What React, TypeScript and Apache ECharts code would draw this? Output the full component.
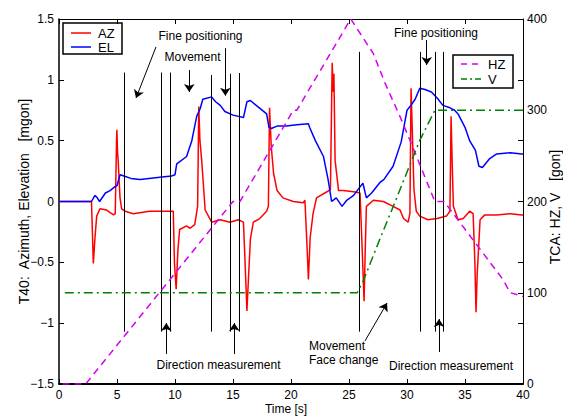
import React, { useEffect, useRef } from 'react';
import * as echarts from 'echarts';

// ---- data (time in s; AZ/EL in mgon; HZ/V in gon) ----
const azPoints: [number, number][] = [
  [0, 0], [2.8, 0], [2.96, -0.51], [3.1, -0.3], [3.25, -0.12], [3.53, -0.06], [4.1, -0.07], [4.7, -0.11],
  [4.85, -0.1], [4.95, 0.45], [4.99, 0.59], [5.05, 0.4], [5.1, 0.34], [5.26, 0.03], [5.4, -0.06], [5.7, -0.08],
  [6.4, -0.1], [7.8, -0.08], [9.3, -0.08], [9.85, -0.08], [9.95, -0.5], [10.1, -0.72], [10.25, -0.4],
  [10.4, -0.23], [11, -0.2], [11.3, -0.22], [11.7, -0.19], [11.95, -0.04], [12.05, 0.78], [12.15, 0.5],
  [12.3, 0.34], [12.6, -0.07], [13.16, -0.17], [13.9, -0.15], [14.74, -0.17], [15.46, -0.15], [15.9, -0.17],
  [16.0, -0.4], [16.2, -0.9], [16.35, -0.6], [16.5, -0.31], [16.75, -0.17], [17.3, -0.14], [17.9, -0.08],
  [18.05, -0.04], [18.15, 0.77], [18.3, 0.45], [18.5, 0.23], [18.8, 0.09], [19.3, 0.03], [20.2, 0.0],
  [21.06, -0.01], [21.2, 0.01], [21.35, -0.3], [21.5, -0.64], [21.65, -0.3], [21.9, -0.1], [22.2, 0.03],
  [23.1, 0.08], [23.4, 0.1], [23.55, 1.14], [23.65, 0.9], [23.7, 1.05], [23.8, 0.34], [24.1, 0.09],
  [24.5, 0.09], [25.4, 0.08], [25.95, 0.07], [26.1, -0.3], [26.3, -0.82], [26.4, -0.4], [26.5, -0.04],
  [27.1, 0.01], [27.96, 0.0], [28.8, -0.04], [29.4, -0.07], [29.7, -0.14], [30.1, -0.17], [30.25, -0.1],
  [30.35, 0.93], [30.45, 0.6], [30.6, 0.1], [30.8, -0.08], [31.1, -0.12], [31.8, -0.15], [32.6, -0.14],
  [33.4, -0.12], [33.7, -0.08], [33.8, 0.7], [33.9, 0.3], [34.0, -0.04], [34.4, -0.15], [34.85, -0.14],
  [35.4, -0.08], [35.7, -0.1], [35.85, -0.5], [35.95, -0.91], [36.05, -0.6], [36.3, -0.15], [36.7, -0.11],
  [37.7, -0.11], [38.9, -0.1], [39.9, -0.11], [40, -0.11],
];

const elPoints: [number, number][] = [
  [0, 0], [2.8, 0], [3.1, 0.05], [3.3, 0.03], [3.5, 0.0], [4.0, 0.07], [4.4, 0.09], [4.8, 0.12], [5.0, 0.13],
  [5.26, 0.22], [5.6, 0.21], [6.2, 0.19], [7, 0.18], [8.7, 0.2], [9.7, 0.21], [10.0, 0.22], [10.15, 0.31],
  [11, 0.37], [11.45, 0.5], [11.87, 0.7], [12.16, 0.76], [12.4, 0.84], [13.16, 0.86], [13.5, 0.82],
  [13.9, 0.79], [14.3, 0.74], [15.0, 0.71], [15.9, 0.69], [16.2, 0.82], [16.5, 0.83], [17.0, 0.79],
  [17.9, 0.72], [18.1, 0.61], [18.3, 0.6], [18.8, 0.62], [19.6, 0.62], [20.5, 0.63], [21.5, 0.64],
  [21.6, 0.61], [22.1, 0.5], [22.8, 0.37], [23.2, 0.18], [23.5, 0.0], [23.9, 0.03], [24.4, -0.04],
  [24.8, 0.01], [25.4, 0.05], [25.95, 0.12], [26.2, 0.15], [26.5, 0.03], [26.95, 0.07], [27.7, 0.16],
  [28, 0.18], [28.8, 0.29], [29.5, 0.49], [30, 0.75], [30.26, 0.78], [30.7, 0.84], [31.1, 0.93],
  [31.55, 0.92], [32.1, 0.9], [32.6, 0.85], [33.1, 0.79], [33.7, 0.77], [34.1, 0.75], [34.4, 0.72],
  [35, 0.61], [35.4, 0.5], [35.9, 0.42], [36.2, 0.29], [36.5, 0.28], [37.1, 0.35], [37.7, 0.39],
  [38.9, 0.4], [39.9, 0.39], [40, 0.39],
];

const hzPoints: [number, number][] = [
  [0.3, 0], [2.3, 0], [15.0, 200], [15.6, 200], [20.2, 300], [20.5, 300], [25.15, 400], [27.1, 362],
  [28.1, 330], [29.4, 293], [30.26, 267], [32.4, 200], [33.2, 200], [38.3, 114], [38.9, 100], [40, 96],
];

const vPoints: [number, number][] = [
  [0.5, 100], [25.7, 100], [26.2, 112], [27.7, 160], [28.7, 191], [31.1, 267], [32.4, 300], [40, 300],
];

// vertical event markers: [time, lower, upper] in mgon
const eventLines: [number, number, number][] = [
  [5.63, -1.07, 1.06], [8.85, -1.07, 1.06], [9.63, -1.07, 1.06],
  [13.1, -1.07, 1.04], [14.77, -1.07, 1.05], [15.55, -1.07, 1.056],
  [25.9, -1.07, 1.23], [31.1, -1.07, 1.23], [32.4, -1.07, 1.23], [33.1, -1.07, 1.23],
];

// annotation arrows: [fromT, fromV, toT, toV]
const arrowLines: [number, number, number, number][] = [
  [8.36, 1.27, 6.64, 0.85],
  [14.34, 1.26, 14.34, 0.87],
  [11.23, 1.08, 11.23, 0.9],
  [31.7, 1.327, 31.7, 1.122],
  [9.25, -1.253, 9.25, -0.999],
  [15.11, -1.253, 15.11, -0.999],
  [26.38, -1.146, 28.28, -0.834],
  [32.76, -1.237, 32.76, -0.966],
];

const COLORS = { AZ: '#ff0000', EL: '#0000ff', HZ: '#d400f0', V: '#008000' };
const DASH_HZ = [7, 5];
const DASH_V = [9, 4, 2, 4];

const FONT = 'Liberation Sans, Arial, Helvetica, sans-serif';
const minus = (v: number) => String(v).replace('-', '\u2212');

export default function App() {
  const ref = useRef<HTMLDivElement>(null);
  useEffect(() => {
    document.body.style.margin = '0';
    const chart = echarts.init(ref.current!, undefined, { renderer: 'svg' });
    const txt = (text: string, x: number, y: number, align = 'center', size = 12) => ({
      type: 'text', x, y, silent: true, z: 100,
      style: { text, fill: '#000', font: `${size}px ${FONT}`, textAlign: align, textVerticalAlign: 'middle' },
    });
    const legendBox = (x: number, y: number, w: number, h: number,
      items: { name: string; color: string; dash?: number[]; y: number }[]) => ({
      type: 'group', z: 100,
      children: [
        { type: 'rect', shape: { x, y, width: w, height: h }, style: { fill: '#fff', stroke: '#000', lineWidth: 1.5 } },
        ...items.flatMap((it) => [
          {
            type: 'line', shape: { x1: x + 8, y1: it.y, x2: x + 28, y2: it.y },
            style: { stroke: it.color, lineWidth: 1.5, lineDash: it.dash || null },
          },
          {
            type: 'text', x: x + 35, y: it.y,
            style: { text: it.name, fill: '#000', font: `13px ${FONT}`, textAlign: 'left', textVerticalAlign: 'middle' },
          },
        ]),
      ],
    });
    const axisCommon = {
      axisLine: { show: true, onZero: false, lineStyle: { color: '#000', width: 1.5 } },
      axisTick: { show: true, inside: true, length: 5, lineStyle: { color: '#000' } },
      splitLine: { show: false },
    };
    chart.setOption({
      animation: false,
      backgroundColor: '#fff',
      grid: { left: 59, right: 40, top: 19, bottom: 32, outerBoundsMode: 'none' },
      xAxis: [
        {
          type: 'value', min: 0, max: 40, interval: 5, position: 'bottom', ...axisCommon,
          axisLine: { show: true, onZero: false, lineStyle: { color: '#000', width: 2 } },
          axisLabel: { margin: 5, fontSize: 12, fontFamily: FONT, color: '#000' },
        },
        {
          type: 'value', min: 0, max: 40, interval: 5, position: 'top', ...axisCommon,
          axisLine: { show: true, onZero: false, lineStyle: { color: '#000', width: 1 } },
          axisLabel: { show: false },
        },
      ],
      yAxis: [
        {
          type: 'value', min: -1.5, max: 1.5, interval: 0.5, position: 'left', ...axisCommon,
          axisLabel: { margin: 5, fontSize: 12, fontFamily: FONT, color: '#000', formatter: minus },
        },
        {
          type: 'value', min: 0, max: 400, interval: 100, position: 'right', ...axisCommon,
          axisLine: { show: true, onZero: false, lineStyle: { color: '#000', width: 1 } },
          axisLabel: { margin: 4, fontSize: 12, fontFamily: FONT, color: '#000' },
        },
        {
          type: 'value', min: -1.5, max: 1.5, interval: 0.5, position: 'right', ...axisCommon,
          axisLine: { show: false, onZero: false }, axisLabel: { show: false },
        },
      ],
      series: [
        {
          name: 'AZ', type: 'line', data: azPoints, symbol: 'none', xAxisIndex: 0, yAxisIndex: 0,
          color: COLORS.AZ, lineStyle: { color: COLORS.AZ, width: 1.5 }, z: 2,
        },
        {
          name: 'EL', type: 'line', data: elPoints, symbol: 'none', xAxisIndex: 0, yAxisIndex: 0,
          color: COLORS.EL, lineStyle: { color: COLORS.EL, width: 1.5 }, z: 3,
        },
        {
          name: 'events', type: 'line', data: [], xAxisIndex: 0, yAxisIndex: 0, z: 4,
          markLine: {
            silent: true, animation: false, symbol: 'none', label: { show: false },
            lineStyle: { color: '#000', width: 1, type: 'solid' },
            data: eventLines.map(([t, lo, hi]) => [{ coord: [t, lo] }, { coord: [t, hi] }]),
          },
        },
        {
          name: 'arrows', type: 'line', data: [], xAxisIndex: 0, yAxisIndex: 0, z: 4,
          markLine: {
            silent: true, animation: false, symbol: ['none', 'arrow'], symbolSize: 8,
            label: { show: false },
            lineStyle: { color: '#000', width: 1, type: 'solid' },
            itemStyle: { color: '#000' },
            data: arrowLines.map(([t0, v0, t1, v1]) => [{ coord: [t0, v0] }, { coord: [t1, v1] }]),
          },
        },
        {
          name: 'HZ', type: 'line', data: hzPoints, symbol: 'none', xAxisIndex: 0, yAxisIndex: 1,
          color: COLORS.HZ, lineStyle: { color: COLORS.HZ, width: 1.5, type: DASH_HZ }, z: 5,
        },
        {
          name: 'V', type: 'line', data: vPoints, symbol: 'none', xAxisIndex: 0, yAxisIndex: 1,
          color: COLORS.V, lineStyle: { color: COLORS.V, width: 1.5, type: DASH_V }, z: 5,
        },
      ],
      graphic: [
        legendBox(63, 23, 59, 31, [
          { name: 'AZ', color: COLORS.AZ, y: 33 },
          { name: 'EL', color: COLORS.EL, y: 47 },
        ]),
        legendBox(453, 55, 60, 33, [
          { name: 'HZ', color: COLORS.HZ, dash: [6, 5], y: 64 },
          { name: 'V', color: COLORS.V, dash: [6, 3, 2, 3], y: 79 },
        ]),
        txt('Fine positioning', 200.5, 36),
        txt('Movement', 192.5, 57),
        txt('Fine positioning', 436, 33),
        txt('Direction measurement', 218.5, 365),
        txt('Direction measurement', 451, 366),
        txt('Movement', 309, 346, 'left'),
        txt('Face change', 309, 360, 'left'),
        txt('Time [s]', 286, 409),
        { ...txt('T40:  Azimuth, Elevation   [mgon]', 24, 201.5, 'center', 14), rotation: Math.PI / 2 },
        { ...txt('TCA: HZ, V   [gon]', 555, 207, 'center', 14), rotation: Math.PI / 2 },
      ],
    });
    return () => chart.dispose();
  }, []);
  return <div ref={ref} style={{ position: 'absolute', left: 0, top: 0, width: 563, height: 416 }} />;
}
